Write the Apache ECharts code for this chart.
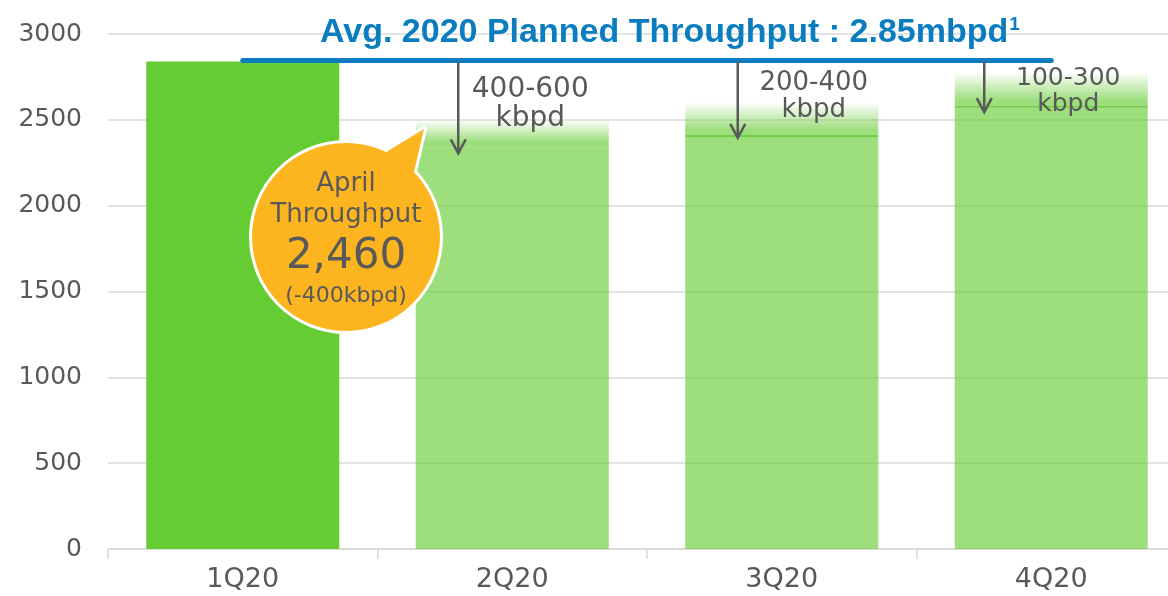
<!DOCTYPE html>
<html>
<head>
<meta charset="utf-8">
<script src="https://cdn.jsdelivr.net/npm/echarts@6/dist/echarts.min.js"></script>
<style>
html, body { margin: 0; padding: 0; background: #fff; }
#chart { width: 1168px; height: 596px; }
</style>
</head>
<body>
<div id="chart"></div>
<script>
// data (kbpd)
var quarters = ['1Q20', '2Q20', '3Q20', '4Q20'];
var baseValues = [2840, 2340, 2400, 2570];
var rangeValues = [0, 160, 200, 210];
var arrowTips = [null, 2305, 2395, 2545];
var avgPlanned = 2850;
var cutLabels = ['', '400-600\nkbpd', '200-400\nkbpd', '100-300\nkbpd'];
var titleText = 'Avg. 2020 Planned Throughput : 2.85mbpd';
var calloutLines = ['April', 'Throughput', '2,460', '(-400kbpd)'];

var GREY = '#595959';
var FONT = '"DejaVu Sans", Verdana, sans-serif';
var TITLE_FONT = '"Liberation Sans", Arial, sans-serif';

function fadeColor(withLine) {
	var stops = [
		{ offset: 0, color: 'rgba(102,204,51,0)' },
		{ offset: 0.8, color: 'rgba(102,204,51,0.64)' }
	];
	if (withLine) {
		stops.push({ offset: 0.94, color: 'rgba(102,204,51,0.64)' });
		stops.push({ offset: 0.94, color: 'rgba(90,196,40,0.85)' });
		stops.push({ offset: 1, color: 'rgba(90,196,40,0.85)' });
	} else {
		stops.push({ offset: 1, color: 'rgba(102,204,51,0.64)' });
	}
	return new echarts.graphic.LinearGradient(0, 0, 0, 1, stops);
}

var baseData = baseValues.map(function (v, i) {
	return { value: v, itemStyle: { color: i === 0 ? '#66CC33' : 'rgba(102,204,51,0.64)' } };
});
var rangeData = rangeValues.map(function (v, i) {
	if (i === 0) return '-';
	return { value: v, itemStyle: { color: fadeColor(i > 1) } };
});

var myChart = echarts.init(document.getElementById('chart'));
myChart.setOption({
	animation: false,
	title: {
		text: '{m|' + titleText + '}{s|1}',
		left: 315,
		top: 8,
		textStyle: {
			rich: {
				m: { fontFamily: TITLE_FONT, fontWeight: 'bold', fontSize: 34, color: '#0A7DC0', lineHeight: 40 },
				s: { fontFamily: TITLE_FONT, fontWeight: 'bold', fontSize: 19, color: '#0A7DC0', verticalAlign: 'top', lineHeight: 40, padding: [2, 0, 0, 1] }
			}
		}
	},
	grid: { left: 108, right: -18, top: 34, bottom: 47, outerBoundsMode: 'none', containLabel: false },
	xAxis: {
		type: 'category',
		data: quarters,
		axisLine: { lineStyle: { color: '#d9d9d9', width: 1.5 } },
		axisTick: { show: true, length: 10, lineStyle: { color: '#d9d9d9', width: 1.5 } },
		axisLabel: { color: GREY, fontFamily: FONT, fontSize: 27, margin: 17 }
	},
	yAxis: {
		type: 'value',
		min: 0,
		max: 3000,
		interval: 500,
		axisLine: { show: false },
		axisTick: { show: false },
		axisLabel: {
			color: GREY, fontFamily: FONT, fontSize: 25, margin: 26,
			formatter: function (v) { return String(v); }
		},
		splitLine: { lineStyle: { color: '#dadada', width: 1.5 } }
	},
	series: [{
		name: 'base',
		type: 'bar',
		stack: 'q',
		barWidth: 193,
		data: baseData
	}, {
		name: 'range',
		type: 'bar',
		stack: 'q',
		barWidth: 193,
		data: rangeData,
		markLine: {
			silent: true,
			symbol: ['none', 'none'],
			label: { show: false },
			lineStyle: { color: '#0A7DC0', width: 5, type: 'solid', cap: 'round' },
			data: [[{ coord: [quarters[0], avgPlanned] }, { coord: [quarters[3], avgPlanned] }]]
		}
	}]
});

// annotations: arrows from the planned line, cut ranges, April callout
var graphics = [];
var arrowOffsets = [0, -54, -44, -67];
var labelOffsets = [0, 18, 32, 17];
var labelFont = [0, 28, 26, 25];
var labelDrop = [0, 15, 10, 6];
var avgY = myChart.convertToPixel({ xAxisIndex: 0, yAxisIndex: 0 }, [0, avgPlanned])[1];

for (var i = 1; i < quarters.length; i++) {
	var cx = myChart.convertToPixel({ xAxisIndex: 0, yAxisIndex: 0 }, [i, 0])[0];
	var ax = cx + arrowOffsets[i];
	var tipY = myChart.convertToPixel({ xAxisIndex: 0, yAxisIndex: 0 }, [i, arrowTips[i]])[1];
	graphics.push({
		type: 'line', z: 10,
		shape: { x1: ax, y1: avgY + 2, x2: ax, y2: tipY },
		style: { stroke: GREY, lineWidth: 2.5 }
	});
	graphics.push({
		type: 'polyline', z: 10,
		shape: { points: [[ax - 7.5, tipY - 14], [ax, tipY], [ax + 7.5, tipY - 14]] },
		style: { stroke: GREY, lineWidth: 2.5, fill: null }
	});
	graphics.push({
		type: 'text', z: 10,
		x: cx + labelOffsets[i], y: avgY + labelDrop[i],
		style: {
			text: cutLabels[i], fill: GREY, font: labelFont[i] + 'px ' + FONT,
			align: 'center', verticalAlign: 'top', lineHeight: labelFont[i] + 1
		}
	});
}

// callout bubble
var bx = 346, by = 237, br = 94;
var tail = [[383, 154], [424, 129], [413, 176]];
graphics.push({ type: 'circle', z: 20, shape: { cx: bx, cy: by, r: br }, style: { fill: '#FDB51F', stroke: '#fff', lineWidth: 6 } });
graphics.push({ type: 'polygon', z: 20, shape: { points: tail }, style: { fill: '#FDB51F', stroke: '#fff', lineWidth: 6, lineJoin: 'round' } });
graphics.push({ type: 'circle', z: 21, shape: { cx: bx, cy: by, r: br }, style: { fill: '#FDB51F' } });
graphics.push({ type: 'polygon', z: 21, shape: { points: tail }, style: { fill: '#FDB51F' } });

var calloutY = [184, 215, 257, 296];
var calloutSize = [26, 26, 42, 22];
for (var k = 0; k < calloutLines.length; k++) {
	graphics.push({
		type: 'text', z: 22,
		x: bx, y: calloutY[k],
		style: {
			text: calloutLines[k], fill: GREY, font: calloutSize[k] + 'px ' + FONT,
			align: 'center', verticalAlign: 'middle'
		}
	});
}

myChart.setOption({ graphic: graphics });
</script>
</body>
</html>
